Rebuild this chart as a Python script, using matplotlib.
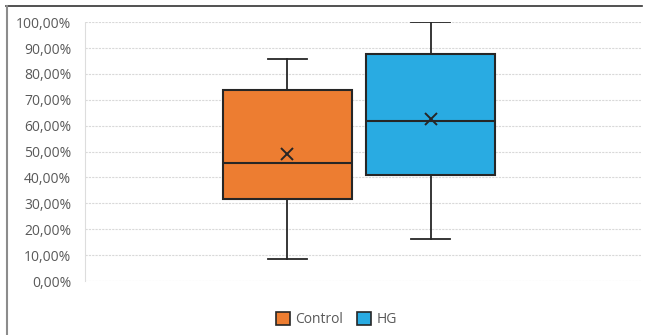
import matplotlib.pyplot as plt
from matplotlib.lines import Line2D
from matplotlib.patches import Patch
from matplotlib.ticker import FuncFormatter

groups = ['Control', 'HG']
colors = ['#ED7D31', '#29ABE2']
whislo = [8.4, 16.1]
q1 = [31.5, 41.0]
med = [45.7, 61.8]
q3 = [73.7, 87.6]
whishi = [85.6, 100.0]
means = [48.9, 62.7]
yticks = list(range(0, 101, 10))

plt.rcParams['font.family'] = ['Open Sans', 'DejaVu Sans']

fig = plt.figure(figsize=(6.45, 3.35), dpi=100)
ax = fig.add_axes([0.132, 0.161, 0.862, 0.773])

stats = []
for i, g in enumerate(groups):
    stats.append({'label': g, 'whislo': whislo[i], 'q1': q1[i], 'med': med[i],
                  'q3': q3[i], 'whishi': whishi[i], 'mean': means[i], 'fliers': []})

bp = ax.bxp(stats, positions=[1, 2], widths=0.9, patch_artist=True, showmeans=True,
            meanprops=dict(marker='x', markeredgecolor='#262626', markersize=8, markeredgewidth=1.4),
            medianprops=dict(color='#262626', linewidth=1.5),
            whiskerprops=dict(color='#262626', linewidth=1.3),
            capprops=dict(color='#262626', linewidth=1.3),
            boxprops=dict(edgecolor='#262626', linewidth=1.5),
            capwidths=0.27, zorder=3)
for patch, c in zip(bp['boxes'], colors):
    patch.set_facecolor(c)

ax.set_xlim(-0.408, 3.467)
ax.set_ylim(0, 100)
ax.set_yticks(yticks)
ax.yaxis.set_major_formatter(FuncFormatter(lambda v, p: f'{v:.2f}%'.replace('.', ',')))
ax.tick_params(axis='y', length=0, labelsize=10, labelcolor='#595959', pad=10)
ax.set_xticks([])
for s in ['top', 'right', 'bottom']:
    ax.spines[s].set_visible(False)
ax.spines['left'].set_color('#dddddd')
ax.spines['left'].set_linestyle((0, (2, 1)))
ax.spines['left'].set_linewidth(0.8)
ax.yaxis.grid(True, color='#d9d9d9', linestyle=(0, (2, 1)), linewidth=0.8)
ax.set_axisbelow(True)

handles = [Patch(facecolor=c, edgecolor='#262626', linewidth=1.2, label=g) for g, c in zip(groups, colors)]
leg = fig.legend(handles=handles, loc='center', bbox_to_anchor=(0.522, 0.045), ncol=2, frameon=False,
                 fontsize=10, handlelength=1.0, handleheight=1.0, handletextpad=0.4, columnspacing=1.0)
for t in leg.get_texts():
    t.set_color('#595959')

fig.add_artist(Line2D([0.009, 0.995], [0.982, 0.982], color='#333333', linewidth=1.2))
fig.add_artist(Line2D([0.011, 0.011], [0.0, 0.982], color='#8c8c8c', linewidth=1.5))

fig.savefig('out.png', dpi=100)
